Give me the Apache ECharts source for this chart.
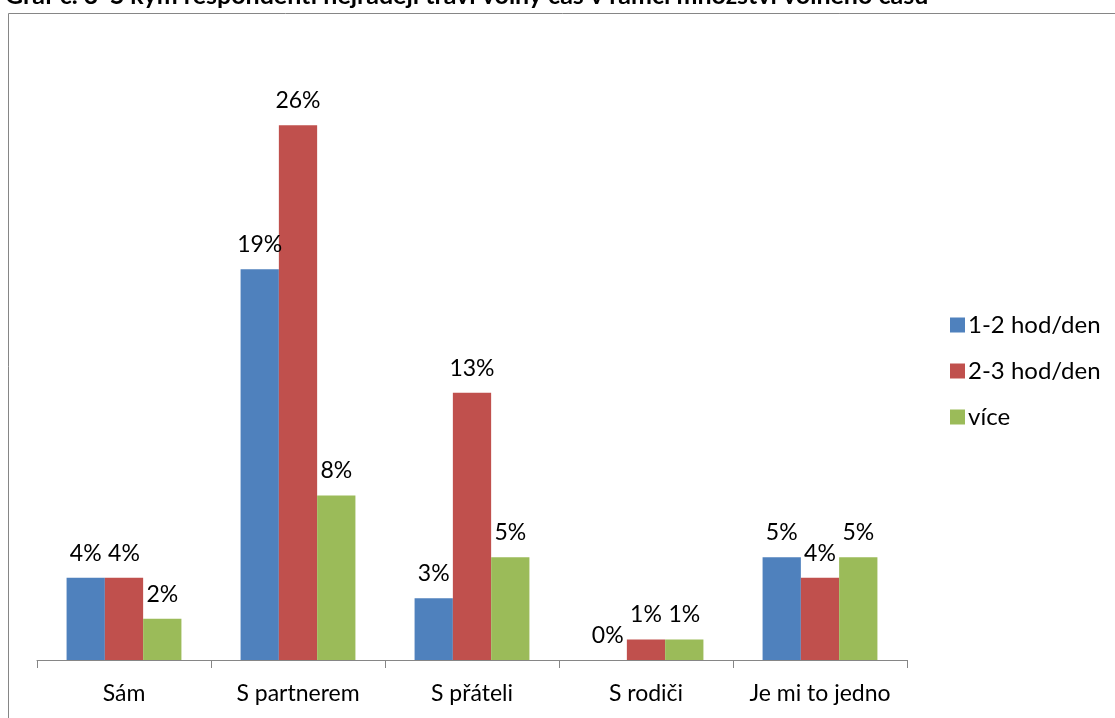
<!DOCTYPE html>
<html>
<head>
<meta charset="utf-8">
<script src="https://cdn.jsdelivr.net/npm/echarts@6/dist/echarts.min.js"></script>
<style>
  html, body { margin: 0; padding: 0; background: #fff; }
  #main { width: 1115px; height: 718px; }
</style>
</head>
<body>
<div id="main"></div>
<script>
// kategorie a hodnoty (v %)
var categories = ['Sám', 'S partnerem', 'S přáteli', 'S rodiči', 'Je mi to jedno'];
var seriesNames = ['1-2 hod/den', '2-3 hod/den', 'více'];
var hod12 = [4, 19, 3, 0, 5];
var hod23 = [4, 26, 13, 1, 4];
var vice = [2, 8, 5, 1, 5];
var colors = ['#4F81BD', '#C0504D', '#9BBB59'];

var font = 'Lato, "Open Sans", sans-serif';

function bar(name, data, color) {
  return {
    name: name,
    type: 'bar',
    data: data,
    barGap: '0%',
    barCategoryGap: '34%',
    itemStyle: { color: color },
    label: {
      show: true,
      position: 'top',
      distance: 13,
      formatter: '{c}%',
      fontFamily: font,
      fontSize: 23,
      color: '#000'
    }
  };
}

var chart = echarts.init(document.getElementById('main'));
chart.setOption({
  animation: false,
  title: {
    text: 'Graf č. 3  S kým respondenti nejraději tráví volný čas v rámci množství volného času',
    left: 0,
    top: -22,
    textStyle: { fontFamily: font, fontSize: 25, fontWeight: 'bold', color: '#000' }
  },
  graphic: [{
    type: 'rect',
    shape: { x: 8.5, y: 13.5, width: 1200, height: 800 },
    style: { fill: '#fff', stroke: '#868686', lineWidth: 1 },
    z: -1,
    silent: true
  }],
  legend: {
    orient: 'vertical',
    left: 945,
    top: 308,
    itemWidth: 15,
    itemHeight: 15,
    itemGap: 22,
    icon: 'rect',
    data: seriesNames,
    textStyle: { fontFamily: font, fontSize: 24, color: '#000', padding: [0, 0, 0, -2] }
  },
  grid: { left: 37, right: 208, top: 43, bottom: 58 },
  xAxis: {
    type: 'category',
    data: categories,
    axisLine: { lineStyle: { color: '#868686', width: 1 } },
    axisTick: { show: true, length: 8, lineStyle: { color: '#868686' } },
    axisLabel: { interval: 0, fontFamily: font, fontSize: 23, color: '#000', margin: 22 }
  },
  yAxis: {
    type: 'value',
    min: 0,
    max: 30,
    show: false,
    splitLine: { show: false }
  },
  series: [
    bar(seriesNames[0], hod12, colors[0]),
    bar(seriesNames[1], hod23, colors[1]),
    bar(seriesNames[2], vice, colors[2])
  ]
});
</script>
</body>
</html>
